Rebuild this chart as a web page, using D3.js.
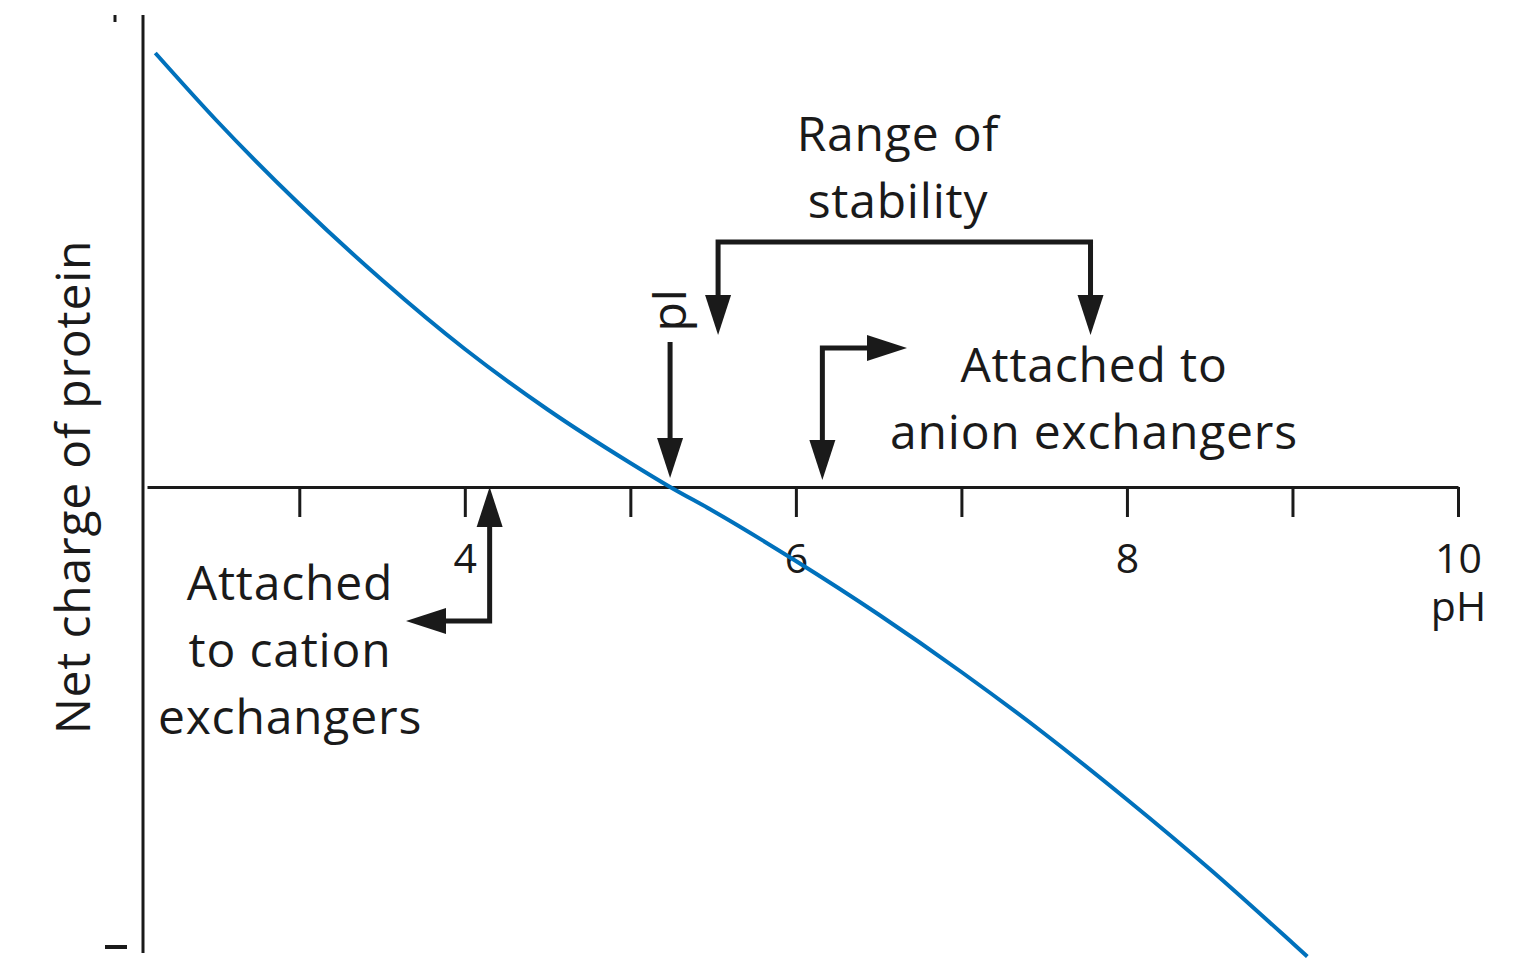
<!DOCTYPE html>
<html>
<head>
<meta charset="utf-8">
<script src="https://cdn.jsdelivr.net/npm/d3@7"></script>
<style>
  html, body { margin: 0; padding: 0; background: #fff; }
  svg { display: block; }
  text { font-family: "Open Sans", sans-serif; fill: #1a1a1a; }
</style>
</head>
<body>
<svg id="chart" width="1527" height="960"></svg>
<script>
// net charge curve (pH, relative charge)
const phValues = [2.13, 2.5, 3.0, 3.5, 4.0, 4.5, 5.0, 5.24,
  5.5, 6.0, 6.5, 7.0, 7.5, 8.0, 8.5, 9.0, 9.09];
const chargeValues = [8.68, 7.33, 5.66, 4.14, 2.76, 1.55, 0.48, 0,
  -0.48, -1.48, -2.55, -3.70, -4.93, -6.25, -7.64, -9.12, -9.39];

const tickValues = [3, 4, 5, 6, 7, 8, 9, 10];
const tickLabels = ["", "4", "", "6", "", "8", "", "10"];
const xAxisTitle = "pH";

const pI = 5.24;
const stabilityRange = [5.53, 7.78];
const anionArrowPh = 6.16;
const cationArrowPh = 4.15;

const ink = "#1a1a1a";
const blue = "#0071bc";
const labelSize = 48;
const labelSpacing = "0.8px";

const svg = d3.select("#chart");

const x = d3.scaleLinear().domain([2.08, 10]).range([147, 1458]);
const y = d3.scaleLinear().domain([-9.32, 9.44]).range([953, 15]);

// y axis (plain line with + / - marks)
svg.append("line")
  .attr("x1", 143).attr("x2", 143)
  .attr("y1", y(9.44)).attr("y2", y(-9.32))
  .attr("stroke", ink).attr("stroke-width", 3);
svg.append("line")
  .attr("x1", 115).attr("x2", 115).attr("y1", 15).attr("y2", 22)
  .attr("stroke", ink).attr("stroke-width", 3);
svg.append("line")
  .attr("x1", 105).attr("x2", 127).attr("y1", 947).attr("y2", 947)
  .attr("stroke", ink).attr("stroke-width", 4);

svg.append("text")
  .attr("transform", `translate(90, ${y(0)}) rotate(-90)`)
  .attr("text-anchor", "middle")
  .attr("font-size", labelSize)
  .attr("letter-spacing", labelSpacing)
  .text("Net charge of protein");

// x axis at zero charge
const xAxis = svg.append("g")
  .attr("transform", `translate(0, ${y(0)})`)
  .call(d3.axisBottom(x)
    .tickValues(tickValues)
    .tickSize(30)
    .tickSizeOuter(0)
    .tickPadding(27)
    .tickFormat((d, i) => tickLabels[i]));
xAxis.select(".domain").attr("stroke", ink).attr("stroke-width", 3);
xAxis.selectAll(".tick line").attr("stroke", ink).attr("stroke-width", 3);
xAxis.selectAll(".tick text")
  .attr("font-family", "Open Sans, sans-serif")
  .attr("font-size", 41)
  .attr("fill", ink);
// axis title sits under the last tick label
xAxis.selectAll(".tick text")
  .filter(d => d === 10)
  .append("tspan")
  .attr("x", 0).attr("dy", 48)
  .text(xAxisTitle);

// curve
const line = d3.line()
  .x((d, i) => x(phValues[i]))
  .y(d => y(d))
  .curve(d3.curveMonotoneX);

svg.append("path")
  .datum(chargeValues)
  .attr("fill", "none")
  .attr("stroke", blue)
  .attr("stroke-width", 4)
  .attr("d", line);

// arrows
function arrowHead(tx, ty, dir) {
  const len = 40, half = 13;
  let pts;
  if (dir === "down") pts = [[tx, ty], [tx - half, ty - len], [tx + half, ty - len]];
  if (dir === "up") pts = [[tx, ty], [tx - half, ty + len], [tx + half, ty + len]];
  if (dir === "right") pts = [[tx, ty], [tx - len, ty - half], [tx - len, ty + half]];
  if (dir === "left") pts = [[tx, ty], [tx + len, ty - half], [tx + len, ty + half]];
  svg.append("path")
    .attr("d", "M" + pts.map(p => p.join(",")).join("L") + "Z")
    .attr("fill", ink);
}
function poly(points) {
  svg.append("path")
    .attr("d", d3.line()(points))
    .attr("fill", "none")
    .attr("stroke", ink)
    .attr("stroke-width", 5)
    .attr("stroke-linejoin", "miter");
}

// range of stability bracket
const sx0 = x(stabilityRange[0]), sx1 = x(stabilityRange[1]);
poly([[sx0, 300], [sx0, 242], [sx1, 242], [sx1, 300]]);
arrowHead(sx0, 335, "down");
arrowHead(sx1, 335, "down");

// pI arrow
const px = x(pI);
poly([[px, 342], [px, 445]]);
arrowHead(px, 478, "down");
svg.append("text")
  .attr("transform", `translate(${px + 16}, 310) rotate(-90)`)
  .attr("text-anchor", "middle")
  .attr("font-size", labelSize)
  .text("pI");

// anion arrow
const ax = x(anionArrowPh);
poly([[ax, 445], [ax, 348], [872, 348]]);
arrowHead(ax, 480, "down");
arrowHead(907, 348, "right");

// cation arrow
const cx = x(cationArrowPh);
poly([[cx, 522], [cx, 621], [440, 621]]);
arrowHead(cx, 487, "up");
arrowHead(406, 621, "left");

// labels
function label(lines, cxp, y0, step) {
  const t = svg.append("text")
    .attr("text-anchor", "middle")
    .attr("font-size", labelSize)
    .attr("letter-spacing", labelSpacing);
  lines.forEach((s, i) => {
    t.append("tspan").attr("x", cxp).attr("y", y0 + i * step).text(s);
  });
}
label(["Range of", "stability"], 898, 151, 67);
label(["Attached to", "anion exchangers"], 1094, 382, 67);
label(["Attached", "to cation", "exchangers"], 290, 600, 67);
</script>
</body>
</html>
